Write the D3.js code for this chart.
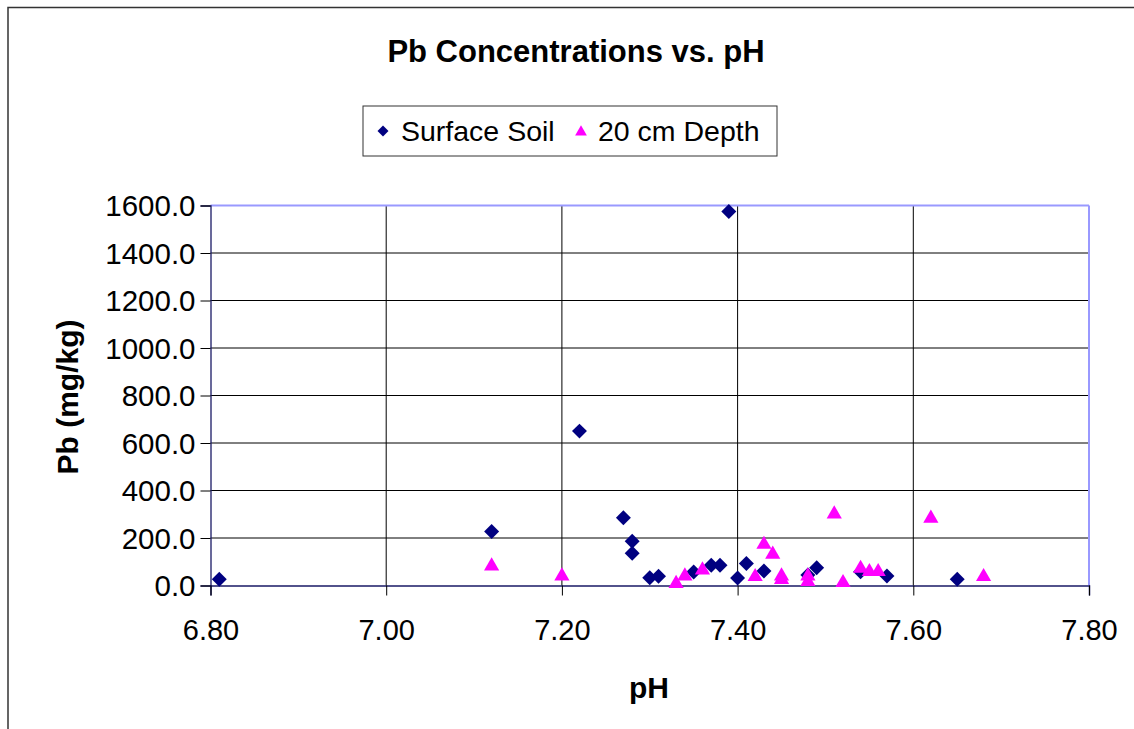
<!DOCTYPE html>
<html><head><meta charset="utf-8">
<script src="https://cdn.jsdelivr.net/npm/d3@7"></script>
<style>body{margin:0;background:#fff;}svg{display:block;font-family:Arial,"Liberation Sans",sans-serif;}</style>
</head><body><svg id="c" width="1134" height="729"></svg>
<script>
const surfacePH = [6.81,7.12,7.22,7.27,7.28,7.28,7.30,7.31,7.35,7.37,7.38,7.39,7.40,7.41,7.43,7.48,7.49,7.54,7.57,7.65];
const surfacePb = [26,227,650,285,186,136,33,39,57,85,85,1575,32,93,61,44,75,58,40,26];
const depthPH = [7.12,7.20,7.33,7.34,7.36,7.42,7.43,7.44,7.45,7.45,7.48,7.48,7.51,7.52,7.54,7.55,7.56,7.62,7.68];
const depthPb = [82,40,8,40,65,37,173,131,40,25,40,16,301,12,72,58,58,283,37];
const xTicks = [6.8,7.0,7.2,7.4,7.6,7.8];
const yTicks = [0,200,400,600,800,1000,1200,1400,1600];
const seriesNames = ["Surface Soil","20 cm Depth"];

const svg = d3.select("#c");
const L=210.5, R=1089, T=205.5, B=585.5;
const x = d3.scaleLinear().domain([6.8,7.8]).range([L,R]);
const y = d3.scaleLinear().domain([0,1600]).range([B,T]);

// outer border
svg.append("rect").attr("x",8).attr("y",7.5).attr("width",1200).attr("height",800)
  .attr("fill","none").attr("stroke","#333").attr("stroke-width",1.5);

// gridlines
svg.append("g").selectAll("line").data(yTicks.filter(d=>d>0&&d<1600)).join("line")
  .attr("x1",L).attr("x2",R).attr("y1",d=>y(d)).attr("y2",d=>y(d))
  .attr("stroke","#000").attr("stroke-width",1);
svg.append("g").selectAll("line").data(xTicks.filter(d=>d>6.8&&d<7.8)).join("line")
  .attr("x1",d=>x(d)).attr("x2",d=>x(d)).attr("y1",T).attr("y2",B)
  .attr("stroke","#000").attr("stroke-width",1);

// plot frame
svg.append("line").attr("x1",L).attr("x2",R).attr("y1",T).attr("y2",T).attr("stroke","#9999ff").attr("stroke-width",2);
svg.append("line").attr("x1",R).attr("x2",R).attr("y1",T).attr("y2",B).attr("stroke","#9999ff").attr("stroke-width",2);

// axes
const yAxis = d3.axisLeft(y).tickValues(yTicks).tickSize(10).tickFormat(d3.format(".1f"));
const gy = svg.append("g").attr("transform",`translate(${L},0)`).call(yAxis);
gy.select(".domain").attr("stroke","#1a1a66").attr("stroke-width",1.3);
gy.selectAll(".tick line").attr("stroke","#000");
gy.selectAll(".tick text").attr("font-size",29.5).attr("fill","#000").attr("x",-15).attr("dy","0.35em");

const xAxis = d3.axisBottom(x).tickValues(xTicks).tickSize(10).tickFormat(d3.format(".2f"));
const gx = svg.append("g").attr("transform",`translate(0,${B})`).call(xAxis);
gx.select(".domain").attr("stroke","#1a1a66").attr("stroke-width",1.5);
gx.selectAll(".tick line").attr("stroke","#000");
gx.selectAll(".tick text").attr("font-size",29).attr("fill","#000").attr("y",44).attr("dy","0.35em");

// markers
const diamond = d3.symbol().type(d3.symbolSquare).size(112);
const tri = d3.symbol().type(d3.symbolTriangle).size(100);
const surf = surfacePH.map((v,i)=>({x:v,y:surfacePb[i]}));
const dep = depthPH.map((v,i)=>({x:v,y:depthPb[i]}));
svg.append("g").selectAll("path").data(surf).join("path")
  .attr("d",diamond).attr("transform",d=>`translate(${x(d.x)},${y(d.y)}) rotate(45)`)
  .attr("fill","#000080");
svg.append("g").selectAll("path").data(dep).join("path")
  .attr("d",tri).attr("transform",d=>`translate(${x(d.x)},${y(d.y)})`)
  .attr("fill","#ff00ff");

// title
svg.append("text").attr("x",576).attr("y",62).attr("text-anchor","middle")
  .attr("font-size",31).attr("font-weight","bold").text("Pb Concentrations vs. pH");

// legend
svg.append("rect").attr("x",363).attr("y",106).attr("width",414).attr("height",50)
  .attr("fill","#fff").attr("stroke","#333").attr("stroke-width",1);
svg.append("path").attr("d",d3.symbol().type(d3.symbolSquare).size(60)).attr("transform","translate(383,131) rotate(45)").attr("fill","#000080");
svg.append("text").attr("x",401).attr("y",141).attr("font-size",28.5).text(seriesNames[0]);
svg.append("path").attr("d",d3.symbol().type(d3.symbolTriangle).size(60)).attr("transform","translate(581,132)").attr("fill","#ff00ff");
svg.append("text").attr("x",598).attr("y",141).attr("font-size",28.5).text(seriesNames[1]);

// axis titles
svg.append("text").attr("x",649).attr("y",698).attr("text-anchor","middle")
  .attr("font-size",30).attr("font-weight","bold").text("pH");
svg.append("text").attr("transform","translate(78,397) rotate(-90)").attr("text-anchor","middle")
  .attr("font-size",30).attr("font-weight","bold").text("Pb (mg/kg)");
</script></body></html>
